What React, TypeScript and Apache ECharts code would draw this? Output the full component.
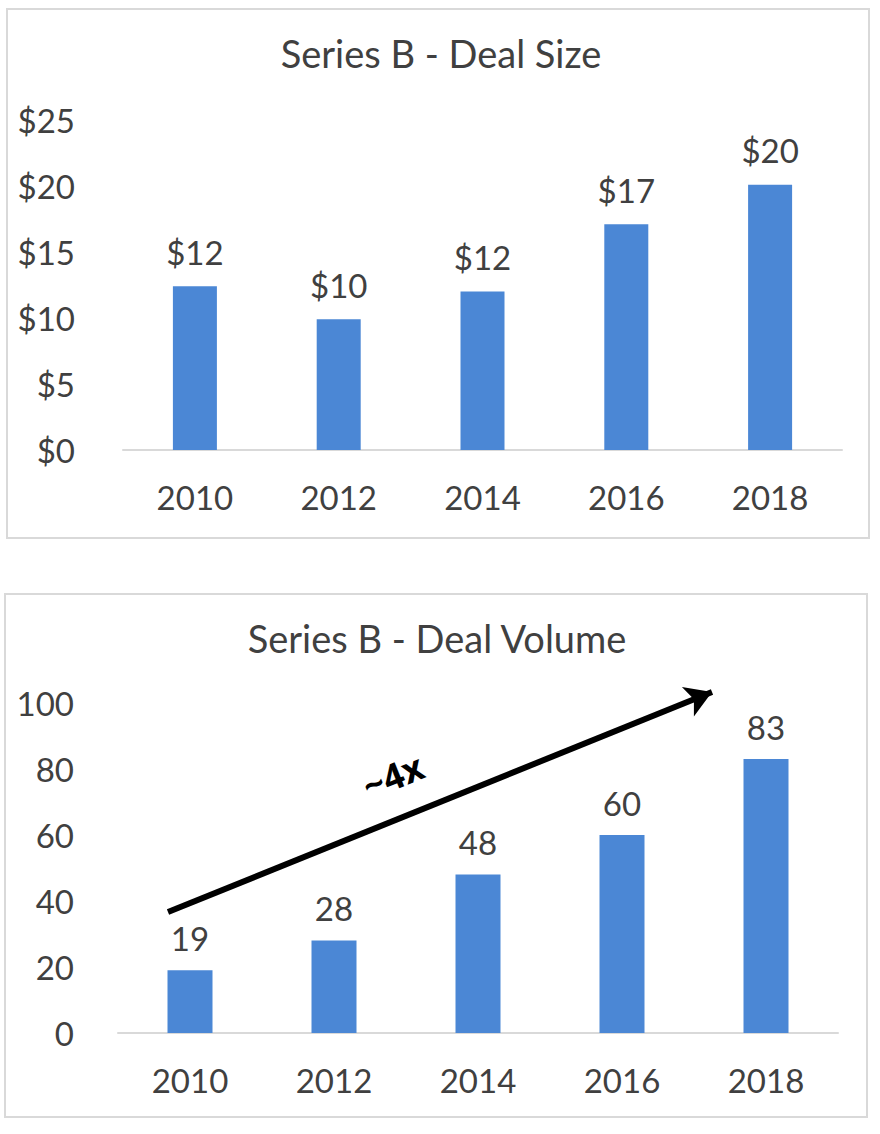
import React, { useEffect, useRef } from "react";
import * as echarts from "echarts";

const years = ["2010", "2012", "2014", "2016", "2018"];
const dealSize = [12.4, 9.9, 12.0, 17.1, 20.1];
const dealVolume = [19, 28, 48, 60, 83];
const sizeTicks = { min: 0, max: 25, interval: 5 };
const volumeTicks = { min: 0, max: 100, interval: 20 };

const FONT = "Lato";
const TXT = "#404040";
const BAR = "#4B87D5";

export default function App() {
  const ref = useRef<HTMLDivElement>(null);
  useEffect(() => {
    document.body.style.margin = "0";
    const chart = echarts.init(ref.current!, null, { renderer: "svg" });
    const axisLabel = { color: TXT, fontFamily: FONT, fontSize: 33 };
    const labelStyle = { color: TXT, fontFamily: FONT, fontSize: 33 };
    chart.setOption({
      animation: false,
      backgroundColor: "#fff",
      title: [
        {
          text: "Series B - Deal Size",
          left: 436,
          top: 29,
          textAlign: "center",
          textStyle: { color: TXT, fontFamily: FONT, fontSize: 38, fontWeight: "normal" },
        },
        {
          text: "Series B - Deal Volume",
          left: 432,
          top: 614,
          textAlign: "center",
          textStyle: { color: TXT, fontFamily: FONT, fontSize: 38, fontWeight: "normal" },
        },
      ],
      grid: [
        { left: 123, right: 38, top: 120, height: 330 },
        { left: 118, right: 42, top: 703, height: 330 },
      ],
      xAxis: [0, 1].map((i) => ({
        type: "category",
        gridIndex: i,
        data: years,
        axisTick: { show: false },
        axisLine: { lineStyle: { color: "#d9d9d9", width: 2 } },
        axisLabel: { ...axisLabel, margin: 30 },
      })),
      yAxis: [
        {
          type: "value",
          gridIndex: 0,
          ...sizeTicks,
          splitLine: { show: false },
          axisLine: { show: false },
          axisTick: { show: false },
          axisLabel: { ...axisLabel, margin: 48, formatter: (v: number) => "$" + v },
        },
        {
          type: "value",
          gridIndex: 1,
          ...volumeTicks,
          splitLine: { show: false },
          axisLine: { show: false },
          axisTick: { show: false },
          axisLabel: { ...axisLabel, margin: 44 },
        },
      ],
      series: [
        {
          type: "bar",
          xAxisIndex: 0,
          yAxisIndex: 0,
          data: dealSize,
          barWidth: 44,
          itemStyle: { color: BAR },
          label: {
            show: true,
            position: "top",
            distance: 18,
            ...labelStyle,
            formatter: (p: any) => "$" + Math.round(p.value),
          },
        },
        {
          type: "bar",
          xAxisIndex: 1,
          yAxisIndex: 1,
          data: dealVolume,
          barWidth: 45,
          itemStyle: { color: BAR },
          label: {
            show: true,
            position: "top",
            distance: 16,
            ...labelStyle,
          },
          markLine: {
            silent: true,
            symbol: ["none", "arrow"],
            symbolSize: [24, 26],
            label: { show: false },
            lineStyle: { color: "#000", width: 6, type: "solid" },
            data: [[{ x: 168, y: 912 }, { x: 712, y: 692 }]],
          },
        },
      ],
      graphic: [
        {
          type: "rect",
          shape: { x: 7, y: 9, width: 862, height: 529 },
          style: { fill: "none", stroke: "#d9d9d9", lineWidth: 2 },
          z: -1,
        },
        {
          type: "rect",
          shape: { x: 5, y: 594, width: 862, height: 523 },
          style: { fill: "none", stroke: "#d9d9d9", lineWidth: 2 },
          z: -1,
        },
        {
          type: "text",
          x: 393,
          y: 776,
          rotation: (22 * Math.PI) / 180,
          style: {
            text: "~4x",
            fill: "#000",
            font: "bold 36px 'Open Sans'",
            align: "center",
            verticalAlign: "middle",
          },
        },
      ],
    });
    return () => chart.dispose();
  }, []);
  return <div ref={ref} style={{ width: 880, height: 1134 }} />;
}
